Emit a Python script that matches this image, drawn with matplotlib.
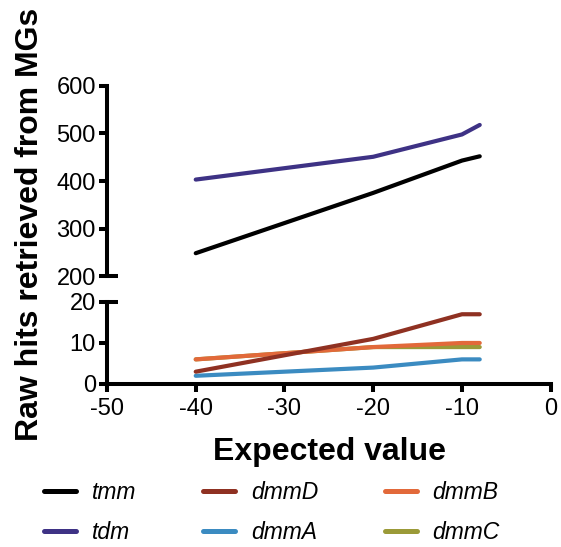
import matplotlib
matplotlib.use("Agg")
import matplotlib.pyplot as plt
from matplotlib.lines import Line2D

plt.rcParams['font.family'] = ['Liberation Sans', 'DejaVu Sans']

x = [-40, -20, -10, -8]
tmm = [248, 375, 443, 452]
tdm = [403, 451, 498, 518]
dmmD = [3, 11, 17, 17]
dmmB = [6, 9, 10, 10]
dmmC = [6, 9, 9, 9]
dmmA = [2, 4, 6, 6]

colors = {
    'tmm': '#000000', 'tdm': '#3e3285', 'dmmD': '#8f3122',
    'dmmA': '#3b8bc1', 'dmmB': '#e2693a', 'dmmC': '#9b9a38',
}

fig = plt.figure(figsize=(5.61, 5.47), dpi=100)
L, W = 0.1907, 0.791
ax_top = fig.add_axes([L, 0.4954, W, 0.3474])
ax_bot = fig.add_axes([L, 0.298, W, 0.150])

lw = 3
sw = 2.9
for ax in (ax_top, ax_bot):
    ax.plot(x, tmm, color=colors['tmm'], lw=lw, solid_capstyle='round')
    ax.plot(x, tdm, color=colors['tdm'], lw=lw, solid_capstyle='round')
    ax.plot(x, dmmC, color=colors['dmmC'], lw=lw, solid_capstyle='round')
    ax.plot(x, dmmA, color=colors['dmmA'], lw=lw, solid_capstyle='round')
    ax.plot(x, dmmB, color=colors['dmmB'], lw=lw, solid_capstyle='round')
    ax.plot(x, dmmD, color=colors['dmmD'], lw=lw, solid_capstyle='round')
    ax.set_xlim(-50, 0)
    for s in ('top', 'right'):
        ax.spines[s].set_visible(False)
    ax.spines['left'].set_linewidth(sw)
    ax.spines['bottom'].set_linewidth(sw)
    ax.tick_params(width=sw, length=6, labelsize=17, direction='out', pad=2)

ax_top.set_ylim(200, 600)
ax_top.set_yticks([200, 300, 400, 500, 600])
ax_top.spines['bottom'].set_visible(False)
ax_top.tick_params(axis='x', bottom=False, labelbottom=False)

ax_bot.set_ylim(0, 20)
ax_bot.set_yticks([0, 10, 20])
ax_bot.set_xticks([-50, -40, -30, -20, -10, 0])
ax_bot.set_xticklabels(['-50', '-40', '-30', '-20', '-10', '0'])
ax_bot.tick_params(axis='x', pad=4)

# break marks
ax_top.plot([-50, -48.8], [200, 200], color='black', lw=sw, clip_on=False,
            solid_capstyle='butt')
ax_bot.plot([-50, -48.8], [20, 20], color='black', lw=sw, clip_on=False,
            solid_capstyle='butt')

fig.text(0.053, 0.589, 'Raw hits retrieved from MGs', rotation=90, ha='center',
         va='center', fontsize=23, fontweight='bold')
fig.text(0.588, 0.174, 'Expected value', ha='center', va='center', fontsize=23,
         fontweight='bold')

order = ['tmm', 'tdm', 'dmmD', 'dmmA', 'dmmB', 'dmmC']
handles = [Line2D([0], [0], color=colors[k], lw=3.6, solid_capstyle='round') for k in order]
leg = fig.legend(handles, order, loc='upper left', bbox_to_anchor=(0.078, 0.1207),
                 borderaxespad=0, borderpad=0, ncol=3,
                 frameon=False, prop={'style': 'italic', 'size': 16.5},
                 handlelength=1.4, handletextpad=0.7, columnspacing=2.9,
                 labelspacing=0.75)

fig.savefig('out.png', dpi=100)
